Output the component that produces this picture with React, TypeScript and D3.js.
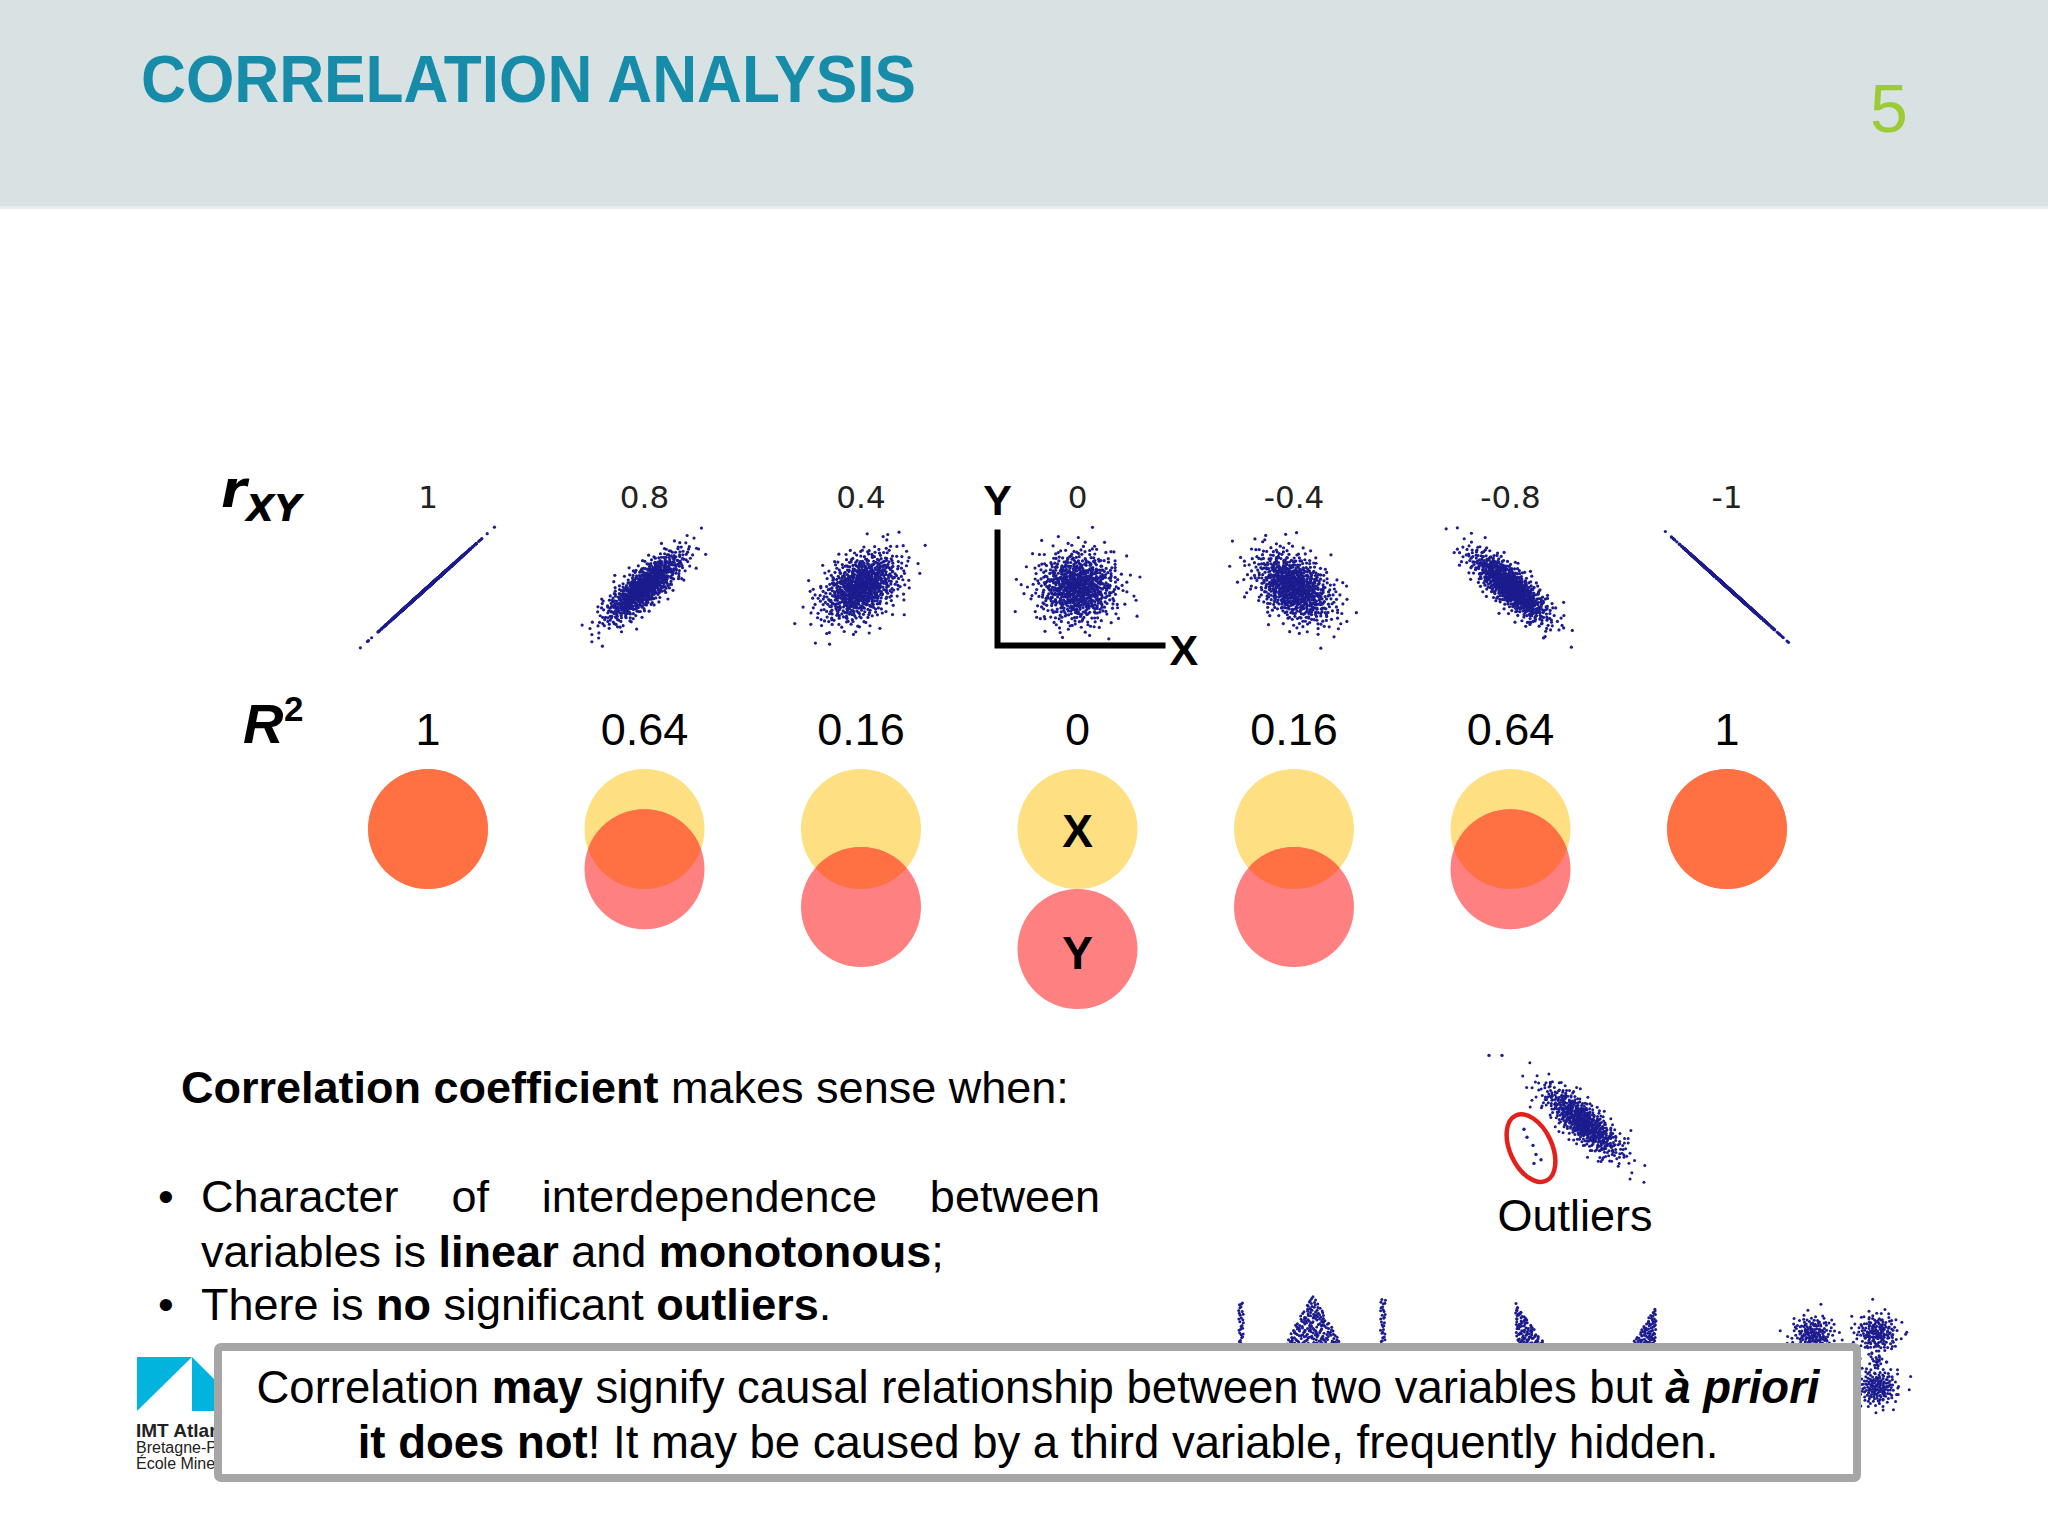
import * as d3 from "d3";
import React from "react";

const W = 2048;
const H = 1536;

// correlation coefficient of each scatter panel, and the label above it
const rValues = [1, 0.8, 0.4, 0, -0.4, -0.8, -1];
const rLabels = ["1", "0.8", "0.4", "0", "-0.4", "-0.8", "-1"];
// R² printed above the Venn circles
const r2Labels = ["1", "0.64", "0.16", "0", "0.16", "0.64", "1"];
// how far the Y circle sits below the X circle, in radii
const circleOffsets = [0, 0.67, 1.3, 2, 1.3, 0.67, 0];

// outlier example: main cloud correlation and the few outlying points (in sigma units)
const outlierCloudR = -0.8;
const outlierPoints: [number, number][] = [
	[-2.95, -0.4],
	[-2.8, -0.85],
	[-2.5, -1.3],
	[-2.35, -1.8],
	[-2.1, -2.1],
	[-2.45, -2.3],
	[-4.7, 3.7],
	[-4.05, 3.7],
];

const bodyFont = "'Liberation Sans', Arial, sans-serif";
const plotFont = "'DejaVu Sans', sans-serif";
const dotColor = "#1c1c8e";

// deterministic low-discrepancy sequence -> gaussian pairs, used only as dot texture
function halton(i: number, b: number) {
	let f = 1;
	let r = 0;
	while (i > 0) {
		f /= b;
		r += f * (i % b);
		i = Math.floor(i / b);
	}
	return r;
}
function gaussPairs(n: number, skip: number) {
	return d3.range(n).map((i) => {
		const u = halton(i + skip, 2) || 1e-6;
		const v = halton(i + skip, 3);
		const m = Math.min(Math.sqrt(-2 * Math.log(u)), 3.4);
		return [m * Math.cos(2 * Math.PI * v), m * Math.sin(2 * Math.PI * v)] as [number, number];
	});
}
function correlated(n: number, r: number, skip: number) {
	const k = Math.sqrt(Math.max(0, 1 - r * r));
	return gaussPairs(n, skip).map(([a, b]) => [a, r * a + k * b] as [number, number]);
}

const measureCtx = document.createElement("canvas").getContext("2d");
function measure(t: string, font: string) {
	if (!measureCtx) return t.length * 20;
	measureCtx.font = font;
	return measureCtx.measureText(t).width;
}

type Seg = [string, string?];
function Segs({ segs }: { segs: Seg[] }) {
	return (
		<>
			{segs.map(([t, s], i) => (
				<tspan
					key={i}
					fontWeight={s && s.includes("b") ? "bold" : "normal"}
					fontStyle={s && s.includes("i") ? "italic" : "normal"}
				>
					{t}
				</tspan>
			))}
		</>
	);
}

export default function App() {
	const xPos = d3.scalePoint<number>().domain(d3.range(7)).range([428, 1727]);
	const panelY = 587;
	const circleY = 829;
	const radius = 60;
	const textSize = 45;

	const panels = React.useMemo(
		() =>
			rValues.map((r, i) => {
				const cx = xPos(i)!;
				const xs = d3.scaleLinear().domain([-3, 3]).range([cx - 60, cx + 60]);
				const ys = d3.scaleLinear().domain([-3, 3]).range([panelY + 54, panelY - 54]);
				const pts = correlated(Math.abs(r) === 1 ? 1100 : 800, r, 17 + i * 911);
				return { cx, xs, ys, pts };
			}),
		[],
	);

	const outlier = React.useMemo(() => {
		const cx = 1583;
		const cy = 1122;
		const xs = d3.scaleLinear().domain([-3, 3]).range([cx - 60, cx + 60]);
		const ys = d3.scaleLinear().domain([-3, 3]).range([cy + 54, cy - 54]);
		return { xs, ys, pts: correlated(650, outlierCloudR, 5000) };
	}, []);

	// partly hidden example panels behind the bottom box
	const fragments = React.useMemo(() => {
		const out: [number, number][] = [];
		const uv = (n: number, skip: number) =>
			d3.range(n).map((i) => [halton(i + skip, 2), halton(i + skip, 3)]);
		uv(40, 11).forEach(([u, v]) => out.push([1241 + (v - 0.5) * 5, 1302 + u * 60]));
		uv(40, 71).forEach(([u, v]) => out.push([1383 + (v - 0.5) * 5, 1298 + u * 60]));
		uv(260, 131).forEach(([u, v]) => {
			const t = Math.sqrt(u);
			out.push([1313 + (v - 0.5) * 2 * t * 34, 1294 + t * 60]);
		});
		uv(130, 431).forEach(([u, v]) => {
			const t = Math.sqrt(u);
			out.push([1515 + t * 18 + (v - 0.5) * t * 32, 1302 + t * 48]);
		});
		uv(110, 631).forEach(([u, v]) => {
			const t = Math.sqrt(u);
			out.push([1656 - t * 14 + (v - 0.5) * t * 28, 1306 + t * 45]);
		});
		const blob = (cx: number, cy: number, skip: number) =>
			gaussPairs(180, skip).forEach(([a, b]) => out.push([cx + a * 11, cy + b * 10]));
		blob(1813, 1335, 811);
		blob(1877, 1333, 1211);
		blob(1877, 1387, 1611);
		gaussPairs(20, 1911).forEach(([a, b]) => out.push([1877 + a * 3, 1360 + b * 6]));
		return out;
	}, []);

	// justified first bullet line
	const justWords = ["Character", "of", "interdependence", "between"];
	const jFont = `${textSize}px ${bodyFont}`;
	const jLeft = 201;
	const jRight = 1100;
	const widths = justWords.map((w) => measure(w, jFont));
	const gap = (jRight - jLeft - d3.sum(widths)) / (justWords.length - 1);
	const jx = widths.map((_, i) => jLeft + d3.sum(widths.slice(0, i)) + gap * i);

	const zeroPanel = panels[3];

	return (
		<div style={{ position: "absolute", left: 0, top: 0 }}>
			<svg width={W} height={H} style={{ display: "block" }} fontFamily={bodyFont}>
				<defs>
					{circleOffsets.map((o, i) => (
						<clipPath id={`cx${i}`} key={i}>
							<circle cx={xPos(i)} cy={circleY} r={radius} />
						</clipPath>
					))}
				</defs>
				<rect width={W} height={H} fill="#fff" />
				{/* header */}
				<rect width={W} height={206} fill="#d9e2e3" />
				<rect y={206} width={W} height={3} fill="#e7eded" />
				<text
					x={141}
					y={102}
					fontSize={66}
					fontWeight="bold"
					fill="#168ca8"
					textLength={775}
					lengthAdjust="spacingAndGlyphs"
				>
					CORRELATION ANALYSIS
				</text>
				<text x={1870} y={132} fontSize={68} fill="#9dcb35">
					5
				</text>

				{/* r_XY row */}
				<text x={221} y={507} fontFamily={plotFont} fontWeight="bold" fontStyle="italic" fontSize={52}>
					r
				</text>
				<text x={246} y={521} fontFamily={plotFont} fontWeight="bold" fontStyle="italic" fontSize={37}>
					XY
				</text>
				{rLabels.map((l, i) => (
					<text
						key={i}
						x={xPos(i)}
						y={508}
						textAnchor="middle"
						fontFamily={plotFont}
						fontSize={31}
						fill="#222"
					>
						{l}
					</text>
				))}
				{panels.map((p, i) => (
					<g key={i}>
						{p.pts.map(([a, b], j) => (
							<circle key={j} cx={p.xs(a)} cy={p.ys(b)} r={1.6} fill={dotColor} />
						))}
					</g>
				))}
				{/* axis hint on the r = 0 panel */}
				<path
					d={`M${zeroPanel.xs(-4)},${zeroPanel.ys(3.2)}V${zeroPanel.ys(-3.25)}H${zeroPanel.xs(4.4)}`}
					fill="none"
					stroke="#000"
					strokeWidth={6}
				/>
				<text x={zeroPanel.xs(-4)} y={515} textAnchor="middle" fontSize={43} fontWeight="bold">
					Y
				</text>
				<text x={zeroPanel.xs(4.6)} y={665} fontSize={43} fontWeight="bold">
					X
				</text>

				{/* R² row */}
				<text x={243} y={743} fontSize={56} fontWeight="bold" fontStyle="italic">
					R
				</text>
				<text x={284} y={721} fontSize={35} fontWeight="bold">
					2
				</text>
				{r2Labels.map((l, i) => (
					<text key={i} x={xPos(i)} y={745} textAnchor="middle" fontSize={45}>
						{l}
					</text>
				))}
				{circleOffsets.map((o, i) => {
					const cx = xPos(i)!;
					const cyY = circleY + o * radius;
					return (
						<g key={i}>
							<circle cx={cx} cy={circleY} r={radius} fill="#fedf82" />
							<circle cx={cx} cy={cyY} r={radius} fill="#ff8080" />
							<circle cx={cx} cy={cyY} r={radius} fill="#ff7043" clipPath={`url(#cx${i})`} />
						</g>
					);
				})}
				<text x={xPos(3)} y={847} textAnchor="middle" fontSize={46} fontWeight="bold">
					X
				</text>
				<text x={xPos(3)} y={969} textAnchor="middle" fontSize={46} fontWeight="bold">
					Y
				</text>

				{/* explanatory text */}
				<text x={181} y={1103} fontSize={textSize} style={{ whiteSpace: "pre" }}>
					<Segs segs={[["Correlation coefficient", "b"], [" makes sense when:"]]} />
				</text>
				<text x={158} y={1212} fontSize={textSize}>
					•
				</text>
				{justWords.map((w, i) => (
					<text key={w} x={jx[i]} y={1212} fontSize={textSize}>
						{w}
					</text>
				))}
				<text x={201} y={1267} fontSize={textSize} style={{ whiteSpace: "pre" }}>
					<Segs segs={[["variables is "], ["linear", "b"], [" and "], ["monotonous", "b"], [";"]]} />
				</text>
				<text x={158} y={1320} fontSize={textSize}>
					•
				</text>
				<text x={201} y={1320} fontSize={textSize} style={{ whiteSpace: "pre" }}>
					<Segs segs={[["There is "], ["no", "b"], [" significant "], ["outliers", "b"], ["."]]} />
				</text>

				{/* outlier example */}
				<g>
					{outlier.pts.map(([a, b], j) => (
						<circle key={j} cx={outlier.xs(a)} cy={outlier.ys(b)} r={1.5} fill={dotColor} />
					))}
					{outlierPoints.map(([a, b], j) => (
						<circle key={j} cx={outlier.xs(a)} cy={outlier.ys(b)} r={1.7} fill={dotColor} />
					))}
					<ellipse
						cx={outlier.xs(-2.6)}
						cy={outlier.ys(-1.45)}
						rx={21}
						ry={36}
						transform={`rotate(-25 ${outlier.xs(-2.6)} ${outlier.ys(-1.45)})`}
						fill="none"
						stroke="#e3201c"
						strokeWidth={4.5}
					/>
				</g>
				<text x={1575} y={1231} textAnchor="middle" fontSize={45}>
					Outliers
				</text>

				{/* hidden panels and logo, covered by the box */}
				{fragments.map(([x, y], j) => (
					<circle key={j} cx={x} cy={y} r={1.5} fill={dotColor} />
				))}
				<path d="M137,1357H192L137,1411Z" fill="#00b4dd" />
				<path d="M192,1357L222,1387V1411H192Z" fill="#00b4dd" />
				<text x={136} y={1437} fontSize={19} fontWeight="bold" fill="#222">
					IMT Atlantique
				</text>
				<text x={136} y={1453} fontSize={16} fill="#222">
					Bretagne-Pays de la Loire
				</text>
				<text x={136} y={1469} fontSize={16} fill="#222">
					École Mines-Télécom
				</text>

				<rect x={218} y={1347} width={1639} height={131} rx={3} fill="#fff" stroke="#a6a6a6" strokeWidth={8} />
				<text x={1038} y={1403} textAnchor="middle" fontSize={45.5} style={{ whiteSpace: "pre" }}>
					<Segs
						segs={[
							["Correlation "],
							["may", "b"],
							[" signify causal relationship between two variables but "],
							["à priori", "bi"],
						]}
					/>
				</text>
				<text x={1038} y={1458} textAnchor="middle" fontSize={45.5} style={{ whiteSpace: "pre" }}>
					<Segs segs={[["it does not", "b"], ["! It may be caused by a third variable, frequently hidden."]]} />
				</text>
			</svg>
		</div>
	);
}
